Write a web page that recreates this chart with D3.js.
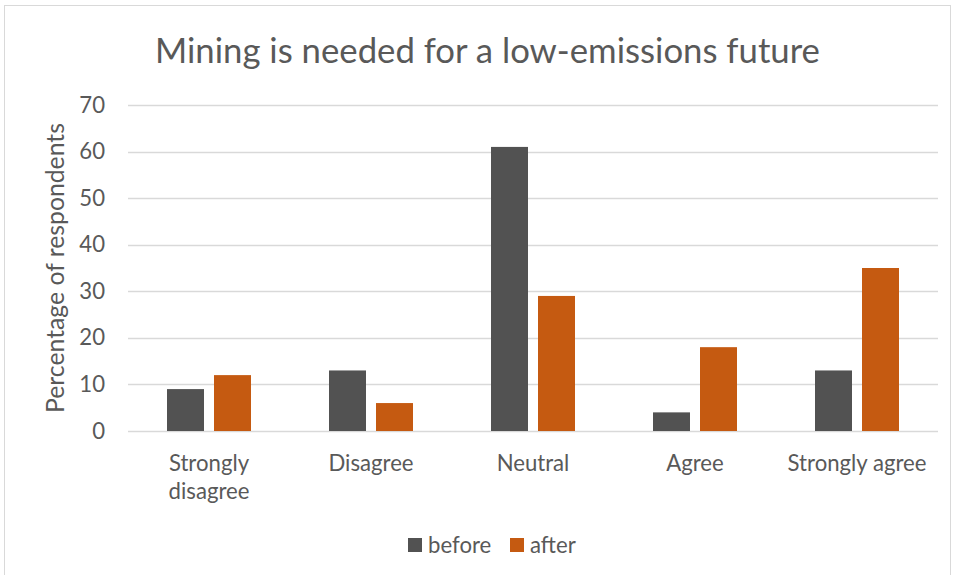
<!DOCTYPE html>
<html><head><meta charset="utf-8">
<script src="https://cdn.jsdelivr.net/npm/d3@7"></script>
<style>
html,body{margin:0;padding:0;background:#fff;}
text{font-family:Lato,"Open Sans",sans-serif;fill:#595959;}
</style></head>
<body><svg id="c" width="955" height="575"></svg>
<script>
const categories = ["Strongly disagree","Disagree","Neutral","Agree","Strongly agree"];
const categoryLines = [["Strongly","disagree"],["Disagree"],["Neutral"],["Agree"],["Strongly agree"]];
const seriesNames = ["before","after"];
const beforeValues = [9,13,61,4,13];
const afterValues = [12,6,29,18,35];
const yTicks = [0,10,20,30,40,50,60,70];
const colors = ["#525252","#C55A11"];

(function(){
const svg = d3.select("#c");
const FONT = "Lato, 'Open Sans', sans-serif";
function fitSize(str, target){
  const t = svg.append("text").style("font-family",FONT).style("font-size","20px").text(str);
  const w = t.node().getComputedTextLength();
  t.remove();
  return 20*target/w;
}
const axisFs = fitSize("Strongly agree",139);
const titleFs = fitSize("Mining is needed for a low-emissions future",665);
const yTitleFs = fitSize("Percentage of respondents",290);

svg.append("rect").attr("x",4.5).attr("y",5.5).attr("width",946).attr("height",580)
  .attr("fill","#fff").attr("stroke","#D9D9D9");

const pL=128, pR=938, pT=105, pB=431;
const x = d3.scaleBand().domain(categories).range([pL,pR]).paddingInner(0).paddingOuter(0);
const y = d3.scaleLinear().domain([0,70]).range([pB,pT]);
const xs = d3.scaleBand().domain(seriesNames).range([0,x.bandwidth()]).paddingInner(0.213).paddingOuter(0.83);

// grid
svg.append("g").selectAll("line").data(yTicks).join("line")
  .attr("x1",pL).attr("x2",pR)
  .attr("y1",d=>Math.round(y(d))+0.5).attr("y2",d=>Math.round(y(d))+0.5)
  .attr("stroke","#D9D9D9").attr("stroke-width",1.3);

// y axis labels
const yAxis = d3.axisLeft(y).tickValues(yTicks).tickSize(0).tickPadding(0);
const ya = svg.append("g").attr("transform",`translate(${pL-23},0)`).call(yAxis);
ya.select(".domain").remove();
ya.selectAll("text").style("font-size",axisFs+"px").style("fill","#595959").style("font-family",FONT);

// bars
const data = categories.map((c,i)=>({c, vals:[beforeValues[i],afterValues[i]]}));
const groups = svg.selectAll("g.cat").data(data).join("g").attr("class","cat").attr("transform",d=>`translate(${x(d.c)},0)`);
groups.selectAll("rect").data(d=>d.vals.map((v,j)=>({s:seriesNames[j],v,j}))).join("rect")
  .attr("x",d=>xs(d.s)).attr("width",xs.bandwidth())
  .attr("y",d=>y(d.v)).attr("height",d=>y(0)-y(d.v))
  .attr("fill",d=>colors[d.j]);

// x labels
const xl = svg.append("g");
categories.forEach((c,i)=>{
  const cx = x(c)+x.bandwidth()/2;
  const t = xl.append("text").attr("x",cx).attr("y",471)
    .attr("text-anchor","middle").style("font-size",axisFs+"px");
  categoryLines[i].forEach((ln,k)=>{
    t.append("tspan").attr("x",cx).attr("dy",k===0?0:28).text(ln);
  });
});

// y title
svg.append("text").attr("transform","translate(64,268) rotate(-90)")
  .attr("text-anchor","middle").style("font-size",yTitleFs+"px").text("Percentage of respondents");

// title
svg.append("text").attr("x",487.5).attr("y",63).attr("text-anchor","middle")
  .style("font-size",titleFs+"px").text("Mining is needed for a low-emissions future");

// legend
const legX=[408,510];
seriesNames.forEach((s,i)=>{
  svg.append("rect").attr("x",legX[i]).attr("y",538).attr("width",14).attr("height",14).attr("fill",colors[i]);
  svg.append("text").attr("x",legX[i]+20).attr("y",553).style("font-size",axisFs+"px").text(s);
});
})();
</script></body></html>
